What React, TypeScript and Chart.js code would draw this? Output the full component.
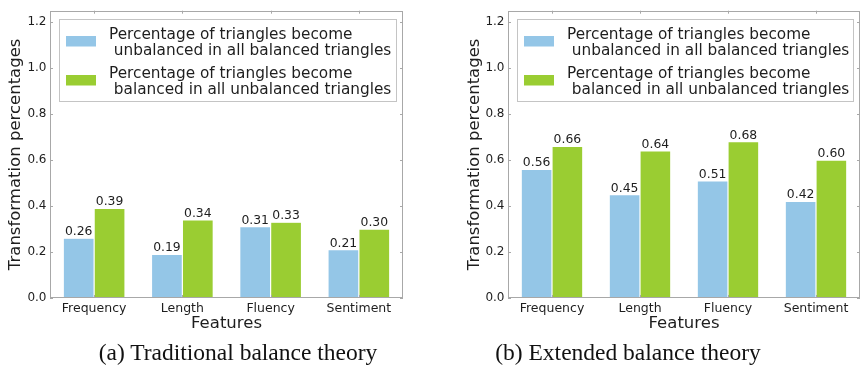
import React, { useEffect, useRef } from 'react';
import { Chart, registerables } from 'chart.js';

Chart.register(...registerables);

const categories = ['Frequency', 'Length', 'Fluency', 'Sentiment'];
const traditionalUnbalanced = [0.26, 0.19, 0.31, 0.21];
const traditionalBalanced = [0.39, 0.34, 0.33, 0.30];
const extendedUnbalanced = [0.56, 0.45, 0.51, 0.42];
const extendedBalanced = [0.66, 0.64, 0.68, 0.60];
const yTickValues = [0, 0.2, 0.4, 0.6, 0.8, 1.0, 1.2];
const legendLines = [
  ['Percentage of triangles become', ' unbalanced in all balanced triangles'],
  ['Percentage of triangles become', ' balanced in all unbalanced triangles'],
];
const captions = ['(a) Traditional balance theory', '(b) Extended balance theory'];
const yTitle = 'Transformation percentages';
const xTitle = 'Features';

const BLUE = '#94c6e7';
const GREEN = '#9acd32';
const TEXT = '#1e1e1e';
const FRAME = '#a8a8a8';
const FONT = '"DejaVu Sans", sans-serif';

const framePlugin = {
  id: 'frameTicks',
  afterDatasetsDraw(chart: any) {
    const { ctx, chartArea: a, scales } = chart;
    ctx.save();
    ctx.strokeStyle = FRAME;
    ctx.lineWidth = 1;
    ctx.strokeRect(Math.round(a.left) + 0.5, Math.round(a.top) + 0.5, Math.round(a.right - a.left) - 1, Math.round(a.bottom - a.top) - 1);
    ctx.beginPath();
    const tl = 3;
    categories.forEach((_, i) => {
      const x = Math.round(scales.x.getPixelForValue(i)) + 0.5;
      ctx.moveTo(x, a.top);
      ctx.lineTo(x, a.top + tl);
      ctx.moveTo(x, a.bottom);
      ctx.lineTo(x, a.bottom - tl);
    });
    yTickValues.forEach((v) => {
      const y = Math.round(scales.y.getPixelForValue(v)) + 0.5;
      ctx.moveTo(a.left, y);
      ctx.lineTo(a.left + tl, y);
      ctx.moveTo(a.right, y);
      ctx.lineTo(a.right - tl, y);
    });
    ctx.stroke();

    // value labels
    ctx.fillStyle = TEXT;
    ctx.font = `12.4px ${FONT}`;
    ctx.textAlign = 'center';
    ctx.textBaseline = 'alphabetic';
    chart.data.datasets.forEach((ds: any, di: number) => {
      const meta = chart.getDatasetMeta(di);
      meta.data.forEach((el: any, i: number) => {
        ctx.fillText(Number(ds.data[i]).toFixed(2), el.x, el.y - 3);
      });
    });
    ctx.restore();
  },
};

const legendPlugin = {
  id: 'boxLegend',
  afterDraw(chart: any) {
    const { ctx, chartArea: a } = chart;
    const x0 = Math.round(a.left) + 9;
    const x1 = Math.round(a.right) - 6;
    const y0 = Math.round(a.top) + 8;
    const y1 = y0 + 83;
    ctx.save();
    ctx.fillStyle = '#ffffff';
    ctx.fillRect(x0, y0, x1 - x0, y1 - y0);
    ctx.strokeStyle = '#c4c4c4';
    ctx.lineWidth = 1;
    ctx.strokeRect(x0 + 0.5, y0 + 0.5, x1 - x0 - 1, y1 - y0 - 1);
    chart.data.datasets.forEach((ds: any, i: number) => {
      ctx.fillStyle = ds.backgroundColor;
      ctx.fillRect(x0 + 7, y0 + 17 + i * 39, 30, 10.5);
      ctx.fillStyle = TEXT;
      ctx.font = `15.3px ${FONT}`;
      ctx.textAlign = 'left';
      ctx.textBaseline = 'alphabetic';
      legendLines[i].forEach((line, j) => {
        ctx.fillText(line, x0 + 50, y0 + 19.5 + i * 39 + j * 16.5);
      });
    });
    ctx.restore();
  },
};

type PanelProps = {
  unbalanced: number[];
  balanced: number[];
  padLeft: number;
  padRight: number;
  yTitlePad: number;
};

function Panel({ unbalanced, balanced, padLeft, padRight, yTitlePad }: PanelProps) {
  const ref = useRef<HTMLCanvasElement | null>(null);
  useEffect(() => {
    if (!ref.current) return;
    const barStyle = {
      borderColor: '#ffffff',
      borderWidth: { top: 0.6, left: 0.6, right: 0.6, bottom: 0 },
      borderSkipped: 'bottom',
      categoryPercentage: 0.7,
      barPercentage: 1.0,
    };
    const chart = new Chart(ref.current, {
      type: 'bar',
      data: {
        labels: categories,
        datasets: [
          { label: legendLines[0].join(''), data: unbalanced, backgroundColor: BLUE, ...barStyle },
          { label: legendLines[1].join(''), data: balanced, backgroundColor: GREEN, ...barStyle },
        ],
      },
      options: {
        responsive: false,
        animation: false,
        devicePixelRatio: 1,
        layout: { padding: { left: padLeft, right: padRight, top: 5, bottom: 0 } },
        plugins: {
          legend: { display: false },
          tooltip: { enabled: false },
          title: { display: false },
        },
        scales: {
          x: {
            type: 'category',
            grid: { display: false, drawTicks: false },
            border: { display: false },
            ticks: {
              color: TEXT,
              font: { family: FONT, size: 12.5 },
              padding: 3,
              maxRotation: 0,
              autoSkip: false,
            },
            title: {
              display: true,
              text: xTitle,
              color: TEXT,
              font: { family: FONT, size: 16.5 },
              padding: { top: 0, bottom: 32.7 },
            },
            afterFit(scale: any) {
              scale.height = 68;
            },
          },
          y: {
            type: 'linear',
            min: 0,
            max: 1.25,
            grid: { display: false, drawTicks: false },
            border: { display: false },
            afterBuildTicks(scale: any) {
              scale.ticks = yTickValues.map((v) => ({ value: v }));
            },
            ticks: {
              color: TEXT,
              font: { family: FONT, size: 12 },
              padding: 3.5,
              callback: (v: any) => Number(v).toFixed(1),
            },
            title: {
              display: true,
              text: yTitle,
              color: TEXT,
              font: { family: FONT, size: 16.5 },
              padding: { top: yTitlePad, bottom: 0 },
            },
            afterFit(scale: any) {
              scale.width = 50;
            },
          },
        },
      },
      plugins: [framePlugin, legendPlugin],
    } as any);
    return () => chart.destroy();
  }, [unbalanced, balanced, padLeft, padRight, yTitlePad]);
  return <canvas ref={ref} width={431} height={366} style={{ display: 'block', width: 431, height: 366 }} />;
}

const captionStyle: React.CSSProperties = {
  position: 'absolute',
  top: 341.3,
  width: 400,
  textAlign: 'center',
  fontFamily: '"Liberation Serif", "Times New Roman", serif',
  fontSize: '23.5px',
  lineHeight: '23.5px',
  color: '#111',
  whiteSpace: 'nowrap',
};

export default function App() {
  return (
    <div style={{ position: 'fixed', left: 0, top: 0, width: 862, height: 366, background: '#fff', overflow: 'hidden' }}>
      <div style={{ position: 'absolute', left: 0, top: 0 }}>
        <Panel unbalanced={traditionalUnbalanced} balanced={traditionalBalanced} padLeft={0} padRight={28} yTitlePad={6} />
      </div>
      <div style={{ position: 'absolute', left: 431, top: 0 }}>
        <Panel unbalanced={extendedUnbalanced} balanced={extendedBalanced} padLeft={27} padRight={2} yTitlePad={7} />
      </div>
      <div style={{ ...captionStyle, left: 238 - 200 }}>{captions[0]}</div>
      <div style={{ ...captionStyle, left: 628 - 200 }}>{captions[1]}</div>
    </div>
  );
}
